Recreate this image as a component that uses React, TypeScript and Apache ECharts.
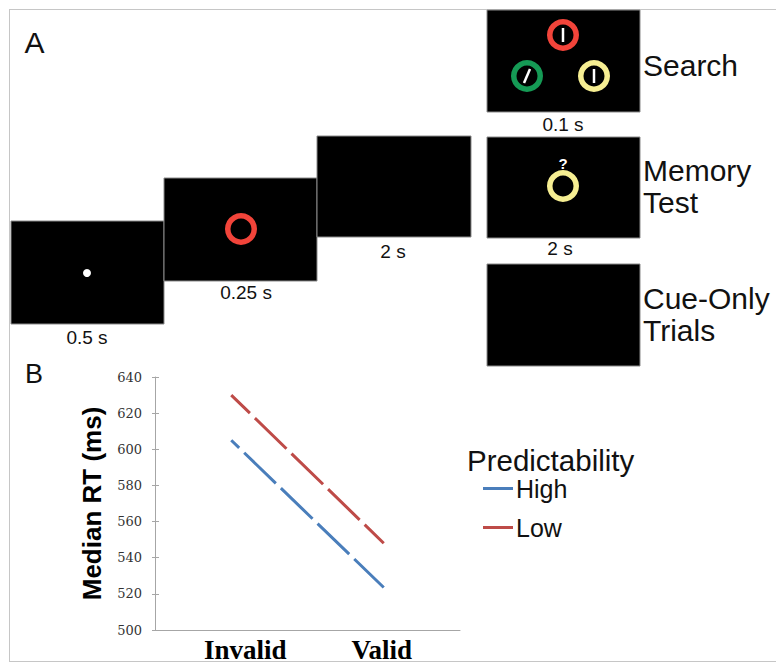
import React, { useEffect, useRef } from "react";
import * as echarts from "echarts";

const categories = ["Invalid", "Valid"];
const highValues = [605, 523.5];
const lowValues = [630, 548];
const seriesNames = ["High", "Low"];
const yTicks = { min: 500, max: 640, interval: 20 };

const SANS = "Liberation Sans, Arial, Helvetica, sans-serif";
const SERIF = "Liberation Serif, Times New Roman, serif";

function txt(text: string, x: number, y: number, size: number, align = "center", extra: any = {}) {
  return {
    type: "text",
    x,
    y,
    silent: true,
    style: {
      text,
      fontSize: size,
      fontFamily: SANS,
      fill: "#111",
      align,
      verticalAlign: "middle",
      textAlign: align,
      textVerticalAlign: "middle",
      ...extra,
    },
  };
}

function screen(x: number, y: number, w: number, h: number) {
  return {
    type: "rect",
    silent: true,
    shape: { x, y, width: w, height: h },
    style: { fill: "#000", stroke: "#8a8a8a", lineWidth: 1 },
  };
}

function ring(cx: number, cy: number, color: string) {
  return {
    type: "ring",
    silent: true,
    shape: { cx, cy, r: 16, r0: 10.5 },
    style: { fill: color },
  };
}

function bar(x1: number, y1: number, x2: number, y2: number) {
  return {
    type: "line",
    silent: true,
    shape: { x1, y1, x2, y2 },
    style: { stroke: "#fff", lineWidth: 2.5 },
  };
}

export default function App() {
  const ref = useRef<HTMLDivElement>(null);
  useEffect(() => {
    if (!ref.current) return;
    const chart = echarts.init(ref.current, null, { renderer: "svg" });
    const RED = "#f2443a";
    const GREEN = "#159a55";
    const YELLOW = "#f6ee92";
    const graphics: any[] = [
      // frame
      { type: "line", silent: true, shape: { x1: 9, y1: 9.5, x2: 776, y2: 9.5 }, style: { stroke: "#c6c6c6", lineWidth: 1 } },
      { type: "line", silent: true, shape: { x1: 9.5, y1: 9, x2: 9.5, y2: 662 }, style: { stroke: "#c6c6c6", lineWidth: 1 } },
      { type: "line", silent: true, shape: { x1: 9, y1: 661.5, x2: 776, y2: 661.5 }, style: { stroke: "#c6c6c6", lineWidth: 1 } },
      // panel letters
      txt("A", 34.5, 42, 30),
      txt("B", 34, 374, 27),
      // sequence screens
      screen(11, 221, 153, 103),
      { type: "circle", silent: true, shape: { cx: 87, cy: 273, r: 4 }, style: { fill: "#fff" } },
      screen(164, 178, 153, 103),
      ring(241, 229, RED),
      screen(317, 136, 154, 101),
      screen(487, 10, 153, 102),
      ring(563, 35, RED),
      bar(563, 28, 563, 42),
      ring(527, 76, GREEN),
      bar(530, 69, 524, 83),
      ring(594, 76, YELLOW),
      bar(594, 69, 594, 83),
      screen(487, 137, 153, 101),
      ring(563, 186, YELLOW),
      txt("?", 563, 163, 15, "center", { fill: "#fff", fontWeight: "bold" }),
      screen(487, 264, 153, 102),
      // durations
      txt("0.5 s", 87, 337, 19),
      txt("0.25 s", 246, 292, 19),
      txt("2 s", 393, 251, 19),
      txt("0.1 s", 563, 124, 19),
      txt("2 s", 560, 248, 19),
      // condition labels
      txt("Search", 643, 65, 30, "left"),
      txt("Memory", 643, 170, 30, "left"),
      txt("Test", 643, 202, 30, "left"),
      txt("Cue-Only", 643, 298, 30, "left"),
      txt("Trials", 643, 330, 30, "left"),
      // legend title
      txt("Predictability", 467, 460, 29.5, "left"),
    ];

    chart.setOption({
      animation: false,
      backgroundColor: "#fff",
      grid: { left: 155, right: 316, top: 377, bottom: 31 },
      legend: {
        orient: "vertical",
        left: 483,
        top: 476,
        padding: 0,
        itemWidth: 30,
        itemHeight: 3,
        itemGap: 14,
        icon: "path://M0,0H30V3H0Z",
        data: seriesNames,
        textStyle: { fontSize: 25, fontFamily: SANS, color: "#111", padding: [0, 0, 0, -2] },
      },
      xAxis: {
        type: "category",
        data: categories,
        boundaryGap: true,
        axisLine: { lineStyle: { color: "#a6a6a6", width: 1 } },
        axisTick: { show: false },
        axisLabel: {
          margin: 6,
          interval: 0,
          formatter: (v: string) => (v === "Invalid" ? "{a|" + v + "}" : "{b|" + v + "}"),
          rich: {
            a: { fontSize: 27, fontFamily: SERIF, fontWeight: "bold", color: "#000", padding: [0, 0, 0, 28] },
            b: { fontSize: 27, fontFamily: SERIF, fontWeight: "bold", color: "#000", padding: [0, 4, 0, 0] },
          },
        },
      },
      yAxis: [
        {
          type: "value",
          min: yTicks.min,
          max: yTicks.max,
          interval: yTicks.interval,
          name: "Median RT (ms)",
          nameLocation: "middle",
          nameGap: 50,
          nameTextStyle: { fontSize: 26, fontWeight: "bold", fontFamily: SANS, color: "#000" },
          axisLine: { show: true, lineStyle: { color: "#a6a6a6", width: 1 } },
          axisTick: { show: true, length: 3, lineStyle: { color: "#a6a6a6" } },
          axisLabel: { margin: 13, fontSize: 13, fontFamily: "DejaVu Serif, serif", color: "#333" },
          splitLine: { show: false },
        },
        {
          type: "value",
          position: "left",
          min: yTicks.min,
          max: yTicks.max,
          interval: yTicks.interval,
          axisLine: { show: false },
          axisTick: { show: true, inside: true, length: 4, lineStyle: { color: "#a6a6a6" } },
          axisLabel: { show: false },
          splitLine: { show: false },
        },
      ],
      series: [
        {
          name: seriesNames[0],
          type: "line",
          data: highValues,
          symbol: "none",
          color: "#4a7ebb",
          lineStyle: { width: 3, color: "#4a7ebb", type: [44, 7], dashOffset: 33 },
        },
        {
          name: seriesNames[1],
          type: "line",
          data: lowValues,
          symbol: "none",
          color: "#be4b48",
          lineStyle: { width: 3, color: "#be4b48", type: [44, 7], dashOffset: 18 },
        },
      ],
      graphic: graphics,
    });
    return () => chart.dispose();
  }, []);
  return (
    <div
      ref={ref}
      style={{ position: "absolute", left: 0, top: 0, width: 776, height: 663 }}
    />
  );
}
